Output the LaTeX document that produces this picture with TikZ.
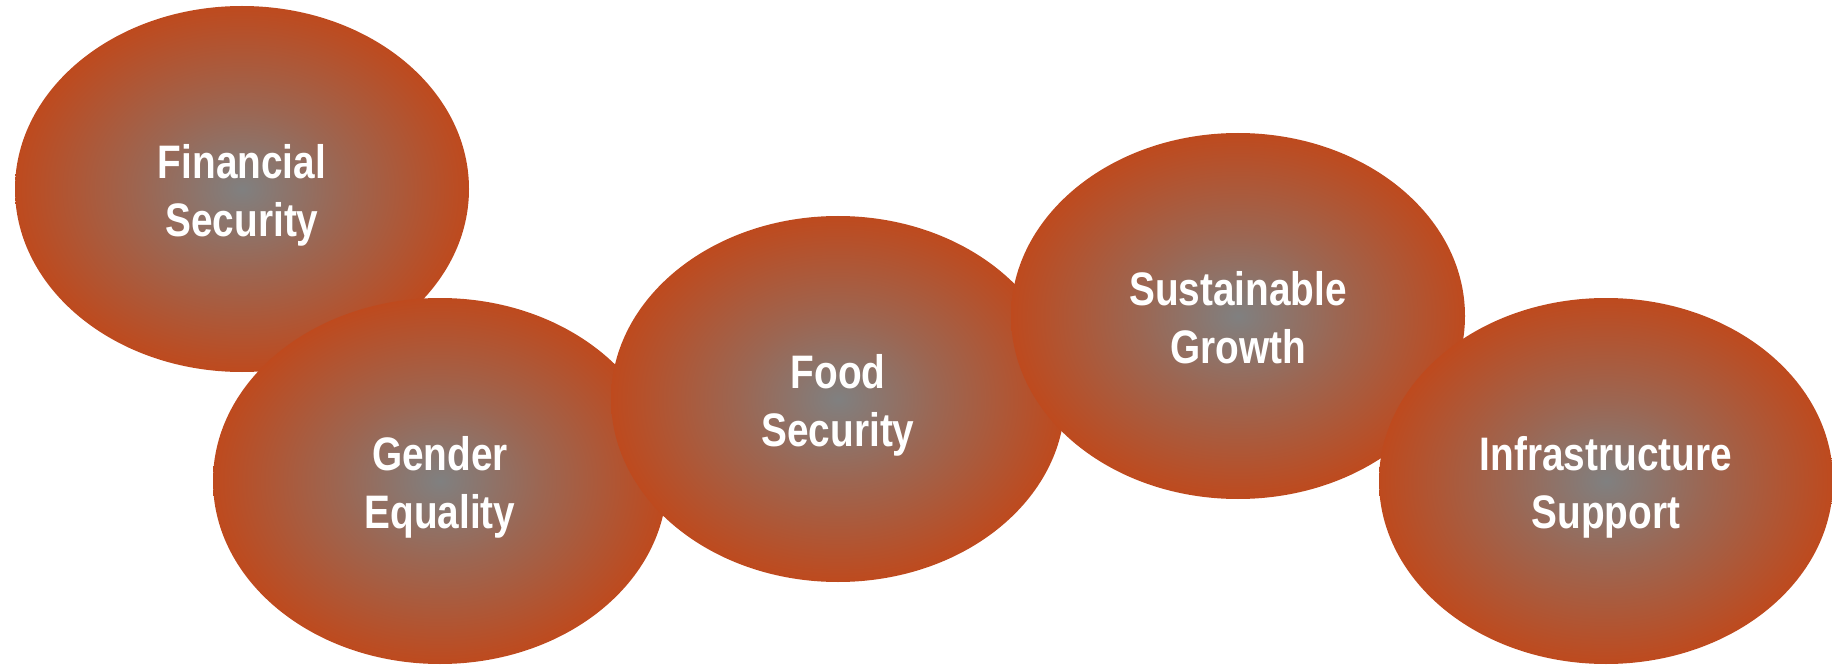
\documentclass[tikz,border=0pt]{standalone}
\usepackage{fontspec}
\setmainfont{Liberation Sans}
\usepackage{graphicx}
\usetikzlibrary{shapes.geometric}
\definecolor{bubblemid}{RGB}{128,128,128}
\definecolor{bubbleinner}{RGB}{156,102,82}
\definecolor{bubbleedge}{RGB}{190,74,30}
\pgfdeclareradialshading{bubbleshade}{\pgfpoint{0bp}{0bp}}{%
  color(0bp)=(bubblemid);
  color(11bp)=(bubbleinner);
  color(25bp)=(bubbleedge);
  color(50bp)=(bubbleedge)}
\newcommand{\bubtext}[2]{\raisebox{-7pt}[\height][\depth]{\scalebox{0.825}[1]{%
  \fontsize{47pt}{58.5pt}\selectfont\bfseries
  \begin{tabular}{@{}c@{}}#1\\#2\end{tabular}}}}
\tikzset{
  bubble/.style={ellipse, minimum width=454pt, minimum height=366pt, inner sep=0pt,
    shading=bubbleshade, text=white, align=center}
}
\begin{document}
\begin{tikzpicture}[x=1pt,y=-1pt]
\useasboundingbox (0,0) rectangle (1832,671);
\node[bubble] (fin) at (242,189) {\bubtext{Financial}{Security}};
\node[bubble] (gen) at (440,481) {\bubtext{Gender}{Equality}};
\node[bubble] (food) at (838,399) {\bubtext{Food}{Security}};
\node[bubble] (sus) at (1238,316) {\bubtext{Sustainable}{Growth}};
\node[bubble] (inf) at (1606,481) {\bubtext{Infrastructure}{Support}};
\end{tikzpicture}
\end{document}
